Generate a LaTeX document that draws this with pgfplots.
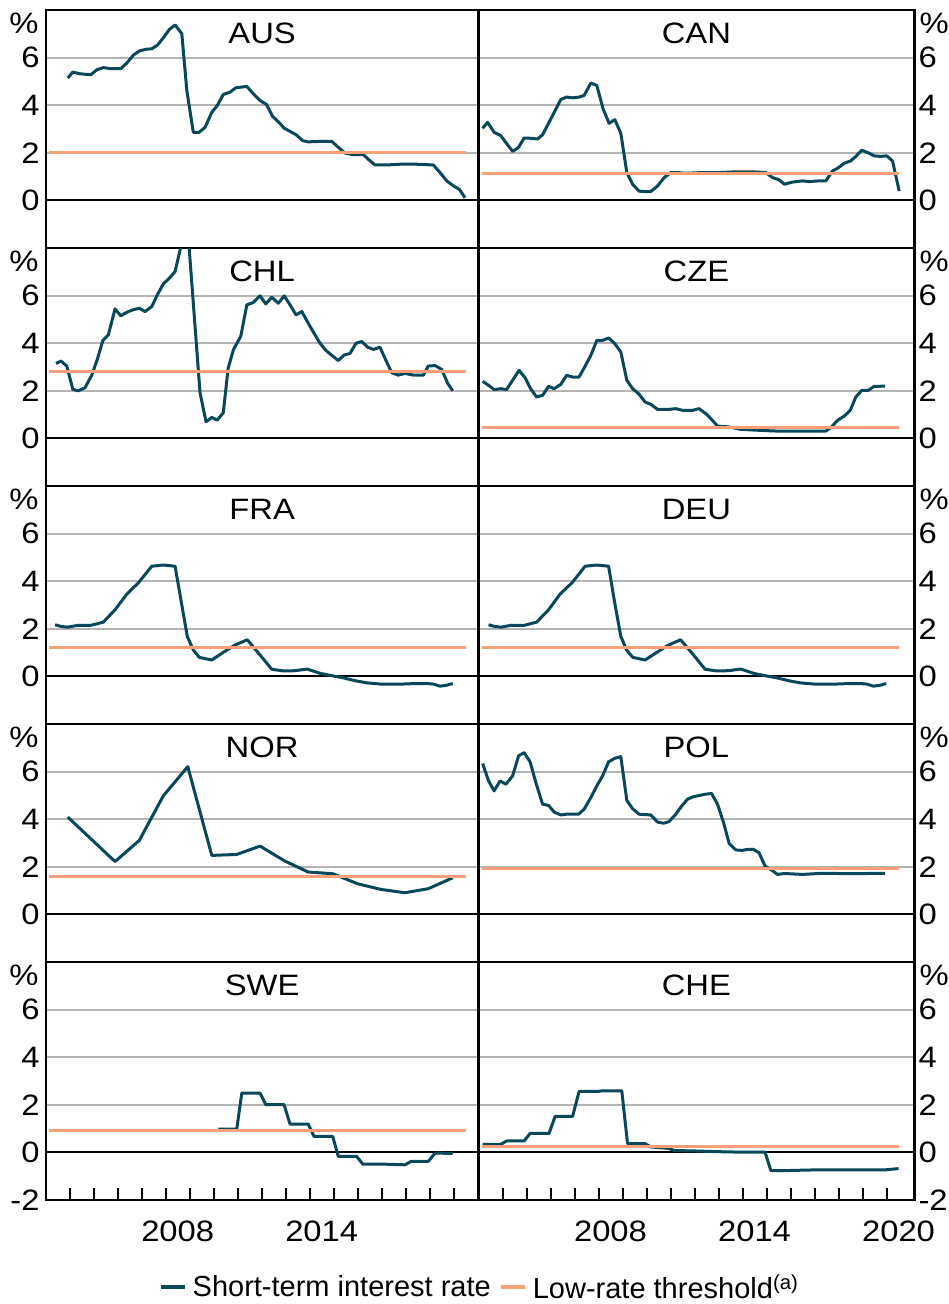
\documentclass[border=0pt]{standalone}
\usepackage{fontspec}
\setmainfont{Liberation Sans}
\newfontfamily\widefont{Liberation Sans}[FakeStretch=1.11]
\usepackage{pgfplots}
\pgfplotsset{compat=1.18}
\definecolor{teal1}{RGB}{8,72,90}
\definecolor{orng}{RGB}{250,160,120}
\definecolor{gridg}{RGB}{180,180,180}
\newcommand{\fs}{\fontsize{29.5}{34}\selectfont\widefont}
\newcommand{\fl}{\fontsize{29}{34}\selectfont}
\pgfplotsset{
  panel/.style={
    scale only axis, height=238pt,
    ymin=-2, ymax=8,
    ytick={2,4,6}, yticklabels={2,4,6},
    extra y ticks={0}, extra y tick labels={0},
    extra y tick style={grid=major, major grid style={black, line width=2pt}},
    ymajorgrids, major grid style={gridg, line width=1.8pt},
    ytick style={draw=none},
    xtick=\empty,
    axis line style={line width=2.4pt},
    tick label style={font=\fs, inner sep=0pt},
    clip mode=individual,
  },
  leftpanel/.style={panel, width=432.8pt, xmin=2003, xmax=2021.033,
    yticklabel style={xshift=-6pt}},
  rightpanel/.style={panel, width=435.8pt, xmin=2003, xmax=2021.158,
    yticklabel pos=right, yticklabel style={xshift=4pt}},
  bottomrow/.style={
    xtick={2004,2005,...,2020}, xticklabels={},
    tick align=inside, xtick pos=left,
    major tick length=12pt,
    xtick style={black, line width=2pt},
    extra y ticks={-2,0}, extra y tick labels={-2,0},
    xticklabel style={yshift=-21pt},
  },
  rate/.style={teal1, line width=3pt, line join=round},
  thr/.style={orng, line width=3pt},
}
\newcommand{\ttl}[1]{\node[anchor=base, font=\fs, inner sep=0pt, yshift=-33pt] at (rel axis cs:0.5,1) {#1};}
\newcommand{\pctL}{\node[anchor=north east, font=\fs, inner sep=0pt, xshift=-7pt, yshift=-2.5pt] at (rel axis cs:0,1) {\%};}
\newcommand{\pctR}{\node[anchor=north west, font=\fs, inner sep=0pt, xshift=5pt, yshift=-2.5pt] at (rel axis cs:1,1) {\%};}
\begin{document}
\begin{tikzpicture}
\useasboundingbox (0pt,0pt) rectangle (949pt,-1304pt);
% ---------- AUS
\begin{axis}[leftpanel, at={(45.7pt,-10pt)}, anchor=north west]
\addplot[rate] coordinates {(2003.92,5.14)(2004.13,5.39)(2004.43,5.32)(2004.88,5.28)(2005.13,5.49)(2005.40,5.58)(2005.68,5.54)(2006.13,5.54)(2006.38,5.77)(2006.65,6.10)(2006.90,6.28)(2007.18,6.35)(2007.42,6.37)(2007.65,6.52)(2007.90,6.83)(2008.15,7.18)(2008.39,7.37)(2008.67,7.01)(2008.88,4.62)(2009.15,2.86)(2009.39,2.86)(2009.64,3.07)(2009.92,3.70)(2010.15,3.99)(2010.40,4.45)(2010.68,4.55)(2010.92,4.73)(2011.38,4.79)(2011.65,4.48)(2011.93,4.20)(2012.20,4.03)(2012.46,3.52)(2012.69,3.31)(2012.93,3.04)(2013.18,2.90)(2013.43,2.76)(2013.71,2.51)(2013.94,2.46)(2014.43,2.48)(2014.92,2.48)(2015.19,2.23)(2015.47,1.99)(2015.82,1.92)(2016.24,1.92)(2016.44,1.73)(2016.72,1.49)(2017.21,1.49)(2017.76,1.52)(2018.46,1.52)(2019.15,1.49)(2019.43,1.17)(2019.71,0.82)(2019.99,0.61)(2020.24,0.46)(2020.47,0.11)};
\addplot[thr] coordinates {(2003.15,2.0)(2020.5,2.0)};
\ttl{AUS}\pctL
\end{axis}
% ---------- CAN
\begin{axis}[rightpanel, at={(478.5pt,-10pt)}, anchor=north west]
\addplot[rate] coordinates {(2003.17,3.03)(2003.38,3.28)(2003.65,2.86)(2003.93,2.72)(2004.17,2.39)(2004.42,2.06)(2004.67,2.23)(2004.90,2.62)(2005.18,2.61)(2005.46,2.58)(2005.67,2.76)(2005.94,3.28)(2006.19,3.77)(2006.43,4.24)(2006.67,4.34)(2006.92,4.31)(2007.19,4.34)(2007.40,4.41)(2007.68,4.93)(2007.93,4.83)(2008.19,3.85)(2008.44,3.24)(2008.68,3.39)(2008.93,2.82)(2009.18,1.17)(2009.42,0.68)(2009.69,0.39)(2009.93,0.37)(2010.18,0.37)(2010.46,0.61)(2010.74,0.96)(2011.01,1.17)(2011.29,1.17)(2011.64,1.14)(2012.33,1.17)(2013.03,1.17)(2013.72,1.20)(2014.42,1.20)(2014.97,1.17)(2015.25,0.96)(2015.53,0.86)(2015.74,0.68)(2016.08,0.77)(2016.50,0.82)(2016.78,0.79)(2017.19,0.82)(2017.47,0.82)(2017.75,1.24)(2017.96,1.35)(2018.24,1.56)(2018.51,1.66)(2018.72,1.85)(2018.97,2.11)(2019.21,2.01)(2019.49,1.87)(2019.76,1.85)(2020.01,1.87)(2020.25,1.66)(2020.53,0.39)};
\addplot[thr] coordinates {(2003.15,1.15)(2020.5,1.15)};
\ttl{CAN}\pctR
\end{axis}
% ---------- CHL
\begin{axis}[leftpanel, at={(45.7pt,-248pt)}, anchor=north west]
\addplot[rate] coordinates {(2003.43,3.15)(2003.64,3.25)(2003.88,3.04)(2004.13,2.06)(2004.36,2.00)(2004.64,2.13)(2004.92,2.66)(2005.15,3.32)(2005.38,4.11)(2005.61,4.35)(2005.89,5.44)(2006.13,5.15)(2006.38,5.30)(2006.63,5.40)(2006.90,5.47)(2007.14,5.33)(2007.42,5.54)(2007.65,6.03)(2007.90,6.49)(2008.15,6.73)(2008.39,7.01)(2008.71,8.40)(2008.94,8.50)(2009.19,5.15)(2009.43,1.92)(2009.68,0.70)(2009.92,0.88)(2010.15,0.77)(2010.40,1.08)(2010.60,2.94)(2010.82,3.72)(2011.13,4.30)(2011.38,5.61)(2011.65,5.71)(2011.93,5.99)(2012.17,5.65)(2012.42,5.93)(2012.69,5.68)(2012.94,5.99)(2013.18,5.61)(2013.43,5.19)(2013.67,5.33)(2013.94,4.84)(2014.18,4.42)(2014.43,4.00)(2014.68,3.69)(2014.96,3.46)(2015.19,3.27)(2015.43,3.50)(2015.68,3.57)(2015.93,4.00)(2016.17,4.07)(2016.42,3.83)(2016.65,3.74)(2016.93,3.83)(2017.18,3.27)(2017.42,2.76)(2017.69,2.66)(2017.97,2.73)(2018.32,2.66)(2018.74,2.66)(2018.94,3.04)(2019.22,3.06)(2019.50,2.90)(2019.75,2.31)(2019.96,2.00)};
\addplot[thr] coordinates {(2003.15,2.80)(2020.5,2.80)};
\ttl{CHL}\pctL
\end{axis}
% ---------- CZE
\begin{axis}[rightpanel, at={(478.5pt,-248pt)}, anchor=north west]
\addplot[rate] coordinates {(2003.17,2.40)(2003.42,2.23)(2003.65,2.05)(2003.93,2.09)(2004.17,2.05)(2004.42,2.44)(2004.69,2.86)(2004.94,2.55)(2005.17,2.09)(2005.42,1.74)(2005.67,1.81)(2005.92,2.19)(2006.15,2.09)(2006.43,2.27)(2006.67,2.65)(2006.92,2.58)(2007.19,2.58)(2007.44,3.03)(2007.68,3.49)(2007.93,4.12)(2008.17,4.12)(2008.42,4.22)(2008.68,3.98)(2008.93,3.63)(2009.18,2.44)(2009.42,2.09)(2009.67,1.88)(2009.94,1.53)(2010.18,1.43)(2010.46,1.22)(2010.94,1.22)(2011.22,1.25)(2011.50,1.18)(2011.92,1.18)(2012.19,1.25)(2012.47,1.04)(2012.68,0.83)(2012.96,0.52)(2013.44,0.48)(2013.93,0.38)(2014.69,0.34)(2015.39,0.31)(2016.08,0.31)(2016.92,0.31)(2017.47,0.31)(2017.68,0.45)(2017.96,0.76)(2018.24,0.94)(2018.49,1.18)(2018.72,1.74)(2018.97,2.02)(2019.24,2.02)(2019.49,2.19)(2019.72,2.19)(2019.94,2.20)};
\addplot[thr] coordinates {(2003.15,0.45)(2020.5,0.45)};
\ttl{CZE}\pctR
\end{axis}
% ---------- FRA
\begin{axis}[leftpanel, at={(45.7pt,-486pt)}, anchor=north west]
\addplot[rate] coordinates {(2003.39,2.17)(2003.64,2.10)(2003.92,2.07)(2004.36,2.15)(2004.85,2.14)(2005.13,2.21)(2005.40,2.28)(2005.89,2.80)(2006.38,3.46)(2006.86,3.93)(2007.14,4.28)(2007.42,4.63)(2007.90,4.68)(2008.39,4.63)(2008.67,3.01)(2008.90,1.68)(2009.15,1.11)(2009.40,0.80)(2009.92,0.69)(2010.40,1.01)(2010.89,1.32)(2011.40,1.54)(2011.93,0.90)(2012.42,0.30)(2012.90,0.23)(2013.39,0.24)(2013.90,0.31)(2014.43,0.13)(2014.92,0.03)(2015.40,-0.06)(2015.89,-0.18)(2016.38,-0.27)(2016.93,-0.32)(2017.42,-0.32)(2017.90,-0.32)(2018.39,-0.30)(2018.88,-0.30)(2019.15,-0.32)(2019.43,-0.41)(2019.71,-0.37)(2019.96,-0.30)};
\addplot[thr] coordinates {(2003.15,1.21)(2020.5,1.21)};
\ttl{FRA}\pctL
\end{axis}
% ---------- DEU
\begin{axis}[rightpanel, at={(478.5pt,-486pt)}, anchor=north west]
\addplot[rate] coordinates {(2003.42,2.17)(2003.67,2.10)(2003.94,2.07)(2004.38,2.15)(2004.88,2.14)(2005.15,2.21)(2005.42,2.28)(2005.92,2.80)(2006.40,3.46)(2006.89,3.93)(2007.17,4.28)(2007.44,4.63)(2007.93,4.68)(2008.42,4.63)(2008.69,3.01)(2008.93,1.68)(2009.17,1.11)(2009.43,0.80)(2009.94,0.69)(2010.43,1.01)(2010.92,1.32)(2011.42,1.54)(2011.96,0.90)(2012.44,0.30)(2012.93,0.23)(2013.42,0.24)(2013.93,0.31)(2014.46,0.13)(2014.94,0.03)(2015.43,-0.06)(2015.92,-0.18)(2016.40,-0.27)(2016.96,-0.32)(2017.44,-0.32)(2017.93,-0.32)(2018.42,-0.30)(2018.90,-0.30)(2019.17,-0.32)(2019.46,-0.41)(2019.74,-0.37)(2019.99,-0.30)};
\addplot[thr] coordinates {(2003.15,1.21)(2020.5,1.21)};
\ttl{DEU}\pctR
\end{axis}
% ---------- NOR
\begin{axis}[leftpanel, at={(45.7pt,-724pt)}, anchor=north west]
\addplot[rate] coordinates {(2003.92,4.09)(2005.89,2.22)(2006.90,3.11)(2007.90,4.98)(2008.92,6.21)(2009.92,2.48)(2010.96,2.52)(2011.93,2.87)(2012.97,2.24)(2013.94,1.78)(2014.96,1.71)(2015.99,1.29)(2016.97,1.05)(2017.97,0.91)(2018.94,1.08)(2019.96,1.54)};
\addplot[thr] coordinates {(2003.15,1.61)(2020.5,1.61)};
\ttl{NOR}\pctL
\end{axis}
% ---------- POL
\begin{axis}[rightpanel, at={(478.5pt,-724pt)}, anchor=north west]
\addplot[rate] coordinates {(2003.17,6.34)(2003.42,5.61)(2003.65,5.19)(2003.90,5.61)(2004.14,5.47)(2004.42,5.82)(2004.67,6.66)(2004.90,6.80)(2005.15,6.41)(2005.39,5.54)(2005.67,4.63)(2005.92,4.58)(2006.15,4.30)(2006.43,4.18)(2006.67,4.21)(2007.17,4.21)(2007.40,4.42)(2007.68,4.91)(2007.93,5.40)(2008.17,5.82)(2008.42,6.41)(2008.68,6.56)(2008.93,6.63)(2009.18,4.79)(2009.42,4.44)(2009.69,4.21)(2010.18,4.18)(2010.46,3.88)(2010.71,3.83)(2010.94,3.90)(2011.22,4.21)(2011.47,4.56)(2011.71,4.84)(2011.96,4.95)(2012.22,5.00)(2012.44,5.05)(2012.71,5.08)(2012.96,4.63)(2013.21,3.86)(2013.44,2.99)(2013.72,2.71)(2013.97,2.69)(2014.21,2.73)(2014.46,2.73)(2014.69,2.59)(2014.94,2.03)(2015.22,1.86)(2015.46,1.68)(2015.74,1.72)(2016.50,1.68)(2017.19,1.72)(2017.89,1.72)(2018.58,1.71)(2019.28,1.72)(2019.94,1.72)};
\addplot[thr] coordinates {(2003.15,1.92)(2020.5,1.92)};
\ttl{POL}\pctR
\end{axis}
% ---------- SWE
\begin{axis}[leftpanel, bottomrow, at={(45.7pt,-962pt)}, anchor=north west,
  extra x ticks={2008.5,2014.5}, extra x tick labels={2008,2014},
  extra x tick style={major tick length=0pt},
  legend style={at={(1,-0.3655)}, anchor=center, xshift=0pt, draw=none, fill=none,
    font=\fl, legend columns=2, inner sep=0pt,
    nodes={inner sep=0pt},
    /tikz/every odd column/.append style={column sep=6pt},
    /tikz/every even column/.append style={column sep=8pt}},
  legend image code/.code={\draw[#1, line width=4pt] (0pt,0pt) -- (24pt,0pt);}]
\addplot[rate] coordinates {(2010.19,0.98)(2010.96,0.98)(2011.17,2.49)(2011.93,2.49)(2012.17,2.01)(2012.93,2.01)(2013.18,1.19)(2013.94,1.19)(2014.18,0.67)(2014.96,0.67)(2015.19,-0.17)(2015.96,-0.17)(2016.21,-0.49)(2017.00,-0.49)(2017.97,-0.52)(2018.22,-0.38)(2018.94,-0.38)(2019.22,-0.03)(2019.96,-0.04)};
\addlegendentry{Short-term interest rate}
\addplot[thr] coordinates {(2003.15,0.91)(2020.5,0.91)};
\addlegendentry{Low-rate threshold\textsuperscript{(a)}}
\ttl{SWE}\pctL
\end{axis}
% ---------- CHE
\begin{axis}[rightpanel, bottomrow, at={(478.5pt,-962pt)}, anchor=north west,
  extra x ticks={2008.5,2014.5,2020.5}, extra x tick labels={2008,2014,2020},
  extra x tick style={major tick length=0pt}]
\addplot[rate] coordinates {(2003.17,0.34)(2003.93,0.34)(2004.17,0.48)(2004.90,0.48)(2005.15,0.80)(2005.94,0.80)(2006.19,1.51)(2006.92,1.51)(2007.19,2.56)(2007.96,2.56)(2008.17,2.59)(2008.97,2.59)(2009.21,0.37)(2009.94,0.37)(2010.18,0.23)(2010.94,0.17)(2011.15,0.08)(2012.06,0.06)(2013.03,0.03)(2014.00,0.01)(2014.94,0.01)(2015.18,-0.76)(2015.94,-0.76)(2017.19,-0.73)(2018.58,-0.73)(2019.97,-0.73)(2020.50,-0.68)};
\addplot[thr] coordinates {(2003.15,0.23)(2020.5,0.23)};
\ttl{CHE}\pctR
\end{axis}
\end{tikzpicture}
\end{document}
